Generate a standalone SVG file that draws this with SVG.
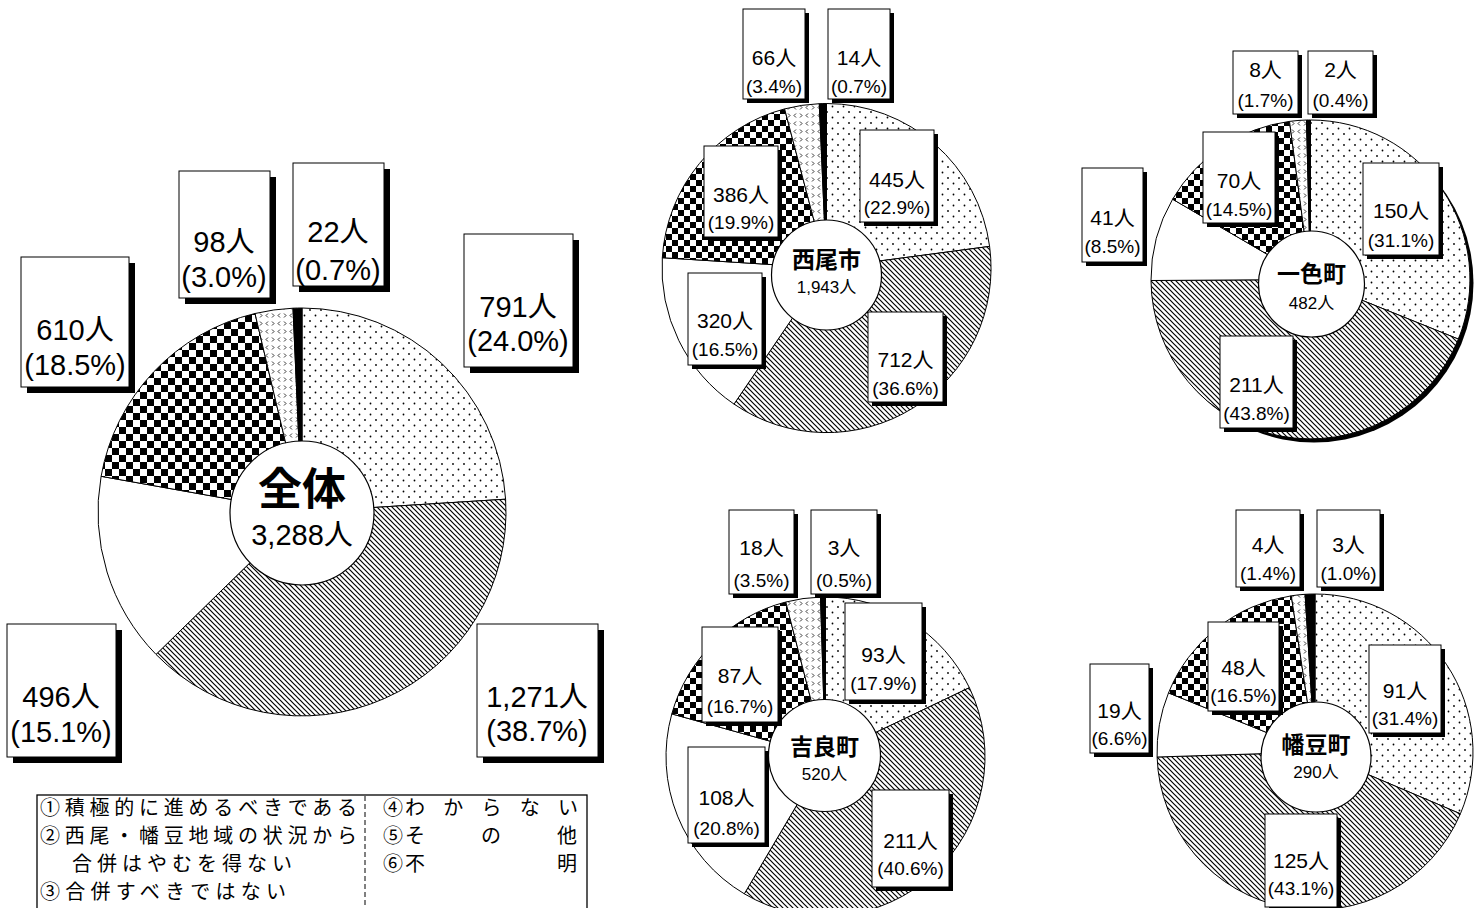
<svg xmlns="http://www.w3.org/2000/svg" width="1482" height="908" viewBox="0 0 1482 908">
<style>
.sl{stroke:#000;stroke-width:1;stroke-linejoin:round}
.hole{fill:#fff;stroke:#000;stroke-width:1.2}
.bx{fill:#fff;stroke:#000;stroke-width:1}
.sh{fill:#000}
.t{font-family:"Liberation Sans","Noto Sans CJK JP",Arial,sans-serif;fill:#000;text-anchor:middle}
.big{font-size:29px}
.sm{font-size:21px}
.smp{font-size:19px}
.ttl{font-family:"Noto Sans CJK JP","Liberation Sans",sans-serif;font-weight:bold;text-anchor:middle}
.lg{font-family:"Noto Sans CJK JP",sans-serif;font-size:20px;fill:#000}
</style>
<defs>
<pattern id="pDot" width="11" height="11" patternUnits="userSpaceOnUse"><rect width="11" height="11" fill="#fff"/><circle cx="2" cy="2" r="0.9"/><circle cx="7.5" cy="7.5" r="0.9"/></pattern>
<pattern id="pHatch" width="5" height="5" patternUnits="userSpaceOnUse"><rect width="5" height="5" fill="#fff"/><path d="M-1,-1 L6,6 M-1,4 L1,6 M4,-1 L6,1" stroke="#000" stroke-width="1.2"/></pattern>
<pattern id="pChkL" width="14" height="14" patternUnits="userSpaceOnUse"><rect width="14" height="14" fill="#fff"/><rect width="7" height="7"/><rect x="7" y="7" width="7" height="7"/></pattern>
<pattern id="pChkS" width="12" height="12" patternUnits="userSpaceOnUse"><rect width="12" height="12" fill="#fff"/><rect width="6" height="6"/><rect x="6" y="6" width="6" height="6"/></pattern>
<pattern id="pChev" width="12" height="8" patternUnits="userSpaceOnUse"><rect width="12" height="8" fill="#fff"/><path d="M4,1.5 L2,3.5 L4,5.5 M8,1.5 L10,3.5 L8,5.5" fill="none" stroke="#000" stroke-width="0.8"/></pattern>
</defs>

<!-- Main pie -->
<g id="pie-all">
<path class="sl" fill="url(#pDot)" d="M302,512 L302,308 A204,204 0 0 1 505.6,499.2 Z"/>
<path class="sl" fill="url(#pHatch)" d="M302,512 L505.6,499.2 A204,204 0 0 1 156.0,654.4 Z"/>
<path class="sl" fill="#fff" d="M302,512 L156.0,654.4 A204,204 0 0 1 101.1,476.3 Z"/>
<path class="sl" fill="url(#pChkL)" d="M302,512 L101.1,476.3 A204,204 0 0 1 255.0,313.5 Z"/>
<path class="sl" fill="url(#pChev)" d="M302,512 L255.0,313.5 A204,204 0 0 1 293.0,308.2 Z"/>
<path class="sl" fill="#000" d="M302,512 L293.0,308.2 A204,204 0 0 1 302,308 Z"/>
<circle class="hole" cx="302" cy="513" r="72"/>
<text class="ttl" x="302" y="505" font-size="44">全体</text>
<text class="t big" x="302" y="545">3,288人</text>
</g>
<g id="lbl-all">
<rect class="sh" x="470" y="240" width="109" height="133"/><rect class="bx" x="464" y="234" width="109" height="133"/>
<text class="t big" x="518" y="317">791人</text><text class="t big" x="518" y="351">(24.0%)</text>
<rect class="sh" x="483" y="630" width="121" height="133"/><rect class="bx" x="477" y="624" width="121" height="133"/>
<text class="t big" x="537" y="707">1,271人</text><text class="t big" x="537" y="741">(38.7%)</text>
<rect class="sh" x="13" y="630" width="109" height="133"/><rect class="bx" x="7" y="624" width="109" height="133"/>
<text class="t big" x="61" y="707">496人</text><text class="t big" x="61" y="742">(15.1%)</text>
<rect class="sh" x="27" y="263" width="108" height="130"/><rect class="bx" x="21" y="257" width="108" height="130"/>
<text class="t big" x="75" y="340">610人</text><text class="t big" x="75" y="375">(18.5%)</text>
<rect class="sh" x="185" y="177" width="91" height="127"/><rect class="bx" x="179" y="171" width="91" height="127"/>
<text class="t big" x="224" y="252">98人</text><text class="t big" x="224" y="287">(3.0%)</text>
<rect class="sh" x="299" y="169" width="91" height="123"/><rect class="bx" x="293" y="163" width="91" height="123"/>
<text class="t big" x="338" y="242">22人</text><text class="t big" x="338" y="280">(0.7%)</text>
</g>

<!-- Nishio -->
<g id="pie-nishio">
<path class="sl" fill="url(#pDot)" d="M826.5,268 L826.5,103.5 A164.5,164.5 0 0 1 989.6,246.4 Z"/>
<path class="sl" fill="url(#pHatch)" d="M826.5,268 L989.6,246.4 A164.5,164.5 0 0 1 734.0,404.1 Z"/>
<path class="sl" fill="#fff" d="M826.5,268 L734.0,404.1 A164.5,164.5 0 0 1 662.3,257.7 Z"/>
<path class="sl" fill="url(#pChkS)" d="M826.5,268 L662.3,257.7 A164.5,164.5 0 0 1 784.6,108.9 Z"/>
<path class="sl" fill="url(#pChev)" d="M826.5,268 L784.6,108.9 A164.5,164.5 0 0 1 819.3,103.7 Z"/>
<path class="sl" fill="#000" d="M826.5,268 L819.3,103.7 A164.5,164.5 0 0 1 826.5,103.5 Z"/>
<circle class="hole" cx="826.5" cy="275" r="55"/>
<text class="ttl" x="826.5" y="268" font-size="23">西尾市</text>
<text class="t" x="826.5" y="293" font-size="17">1,943人</text>
</g>
<g id="lbl-nishio">
<rect class="sh" x="747" y="13" width="62" height="90"/><rect class="bx" x="743" y="9" width="62" height="90"/>
<text class="t sm" x="774" y="65">66人</text><text class="t smp" x="774" y="93">(3.4%)</text>
<rect class="sh" x="832" y="13" width="62" height="90"/><rect class="bx" x="828" y="9" width="62" height="90"/>
<text class="t sm" x="859" y="65">14人</text><text class="t smp" x="859" y="93">(0.7%)</text>
<rect class="sh" x="864" y="134" width="74" height="92"/><rect class="bx" x="860" y="130" width="74" height="92"/>
<text class="t sm" x="897" y="187">445人</text><text class="t smp" x="897" y="214">(22.9%)</text>
<rect class="sh" x="708" y="150" width="74" height="91"/><rect class="bx" x="704" y="146" width="74" height="91"/>
<text class="t sm" x="741" y="202">386人</text><text class="t smp" x="741" y="229">(19.9%)</text>
<rect class="sh" x="692" y="277" width="74" height="92"/><rect class="bx" x="688" y="273" width="74" height="92"/>
<text class="t sm" x="725" y="328">320人</text><text class="t smp" x="725" y="356">(16.5%)</text>
<rect class="sh" x="872" y="316" width="75" height="90"/><rect class="bx" x="868" y="312" width="75" height="90"/>
<text class="t sm" x="905.5" y="367">712人</text><text class="t smp" x="905.5" y="395">(36.6%)</text>
</g>

<!-- Isshiki -->
<g id="pie-isshiki">
<circle cx="1314" cy="283" r="159.5" fill="#000"/>
<path class="sl" fill="url(#pDot)" d="M1310.5,279.5 L1310.5,120 A159.5,159.5 0 0 1 1458.4,339.1 Z"/>
<path class="sl" fill="url(#pHatch)" d="M1310.5,279.5 L1458.4,339.1 A159.5,159.5 0 0 1 1151.0,280.5 Z"/>
<path class="sl" fill="#fff" d="M1310.5,279.5 L1151.0,280.5 A159.5,159.5 0 0 1 1172.6,199.2 Z"/>
<path class="sl" fill="url(#pChkS)" d="M1310.5,279.5 L1172.6,199.2 A159.5,159.5 0 0 1 1289.5,121.4 Z"/>
<path class="sl" fill="url(#pChev)" d="M1310.5,279.5 L1289.5,121.4 A159.5,159.5 0 0 1 1306.5,120.0 Z"/>
<path class="sl" fill="#000" d="M1310.5,279.5 L1306.5,120.0 A159.5,159.5 0 0 1 1310.5,120 Z"/>
<circle class="hole" cx="1311.5" cy="284" r="53"/>
<text class="ttl" x="1311.5" y="282" font-size="23">一色町</text>
<text class="t" x="1311.5" y="309" font-size="17">482人</text>
</g>
<g id="lbl-isshiki">
<rect class="sh" x="1237" y="55" width="65" height="63"/><rect class="bx" x="1233" y="51" width="65" height="63"/>
<text class="t sm" x="1265.5" y="77">8人</text><text class="t smp" x="1265.5" y="107">(1.7%)</text>
<rect class="sh" x="1312" y="55" width="65" height="63"/><rect class="bx" x="1308" y="51" width="65" height="63"/>
<text class="t sm" x="1340.5" y="77">2人</text><text class="t smp" x="1340.5" y="107">(0.4%)</text>
<rect class="sh" x="1207" y="136" width="72" height="91"/><rect class="bx" x="1203" y="132" width="72" height="91"/>
<text class="t sm" x="1239" y="188">70人</text><text class="t smp" x="1239" y="216">(14.5%)</text>
<rect class="sh" x="1367" y="167" width="76" height="92"/><rect class="bx" x="1363" y="163" width="76" height="92"/>
<text class="t sm" x="1401" y="218">150人</text><text class="t smp" x="1401" y="247">(31.1%)</text>
<rect class="sh" x="1086" y="172" width="61" height="94"/><rect class="bx" x="1082" y="168" width="61" height="94"/>
<text class="t sm" x="1112.5" y="225">41人</text><text class="t smp" x="1112.5" y="253">(8.5%)</text>
<rect class="sh" x="1224" y="340" width="73" height="92"/><rect class="bx" x="1220" y="336" width="73" height="92"/>
<text class="t sm" x="1256.5" y="392">211人</text><text class="t smp" x="1256.5" y="420">(43.8%)</text>
</g>

<!-- Kira -->
<g id="pie-kira">
<path class="sl" fill="url(#pDot)" d="M825.5,756.5 L825.5,597 A159.5,159.5 0 0 1 969.4,687.7 Z"/>
<path class="sl" fill="url(#pHatch)" d="M825.5,756.5 L969.4,687.7 A159.5,159.5 0 0 1 744.3,893.8 Z"/>
<path class="sl" fill="#fff" d="M825.5,756.5 L744.3,893.8 A159.5,159.5 0 0 1 671.8,713.9 Z"/>
<path class="sl" fill="url(#pChkS)" d="M825.5,756.5 L671.8,713.9 A159.5,159.5 0 0 1 785.8,602.0 Z"/>
<path class="sl" fill="url(#pChev)" d="M825.5,756.5 L785.8,602.0 A159.5,159.5 0 0 1 820.5,597.1 Z"/>
<path class="sl" fill="#000" d="M825.5,756.5 L820.5,597.1 A159.5,159.5 0 0 1 825.5,597 Z"/>
<circle class="hole" cx="824.5" cy="755.5" r="56"/>
<text class="ttl" x="824.5" y="755" font-size="23">吉良町</text>
<text class="t" x="824.5" y="780" font-size="17">520人</text>
</g>
<g id="lbl-kira">
<rect class="sh" x="733" y="514" width="65" height="84"/><rect class="bx" x="729" y="510" width="65" height="84"/>
<text class="t sm" x="761.5" y="555">18人</text><text class="t smp" x="761.5" y="587">(3.5%)</text>
<rect class="sh" x="815" y="514" width="66" height="84"/><rect class="bx" x="811" y="510" width="66" height="84"/>
<text class="t sm" x="844" y="555">3人</text><text class="t smp" x="844" y="587">(0.5%)</text>
<rect class="sh" x="849" y="607" width="77" height="97"/><rect class="bx" x="845" y="603" width="77" height="97"/>
<text class="t sm" x="883.5" y="662">93人</text><text class="t smp" x="883.5" y="690">(17.9%)</text>
<rect class="sh" x="706" y="631" width="76" height="95"/><rect class="bx" x="702" y="627" width="76" height="95"/>
<text class="t sm" x="740" y="683">87人</text><text class="t smp" x="740" y="713">(16.7%)</text>
<rect class="sh" x="692" y="751" width="77" height="96"/><rect class="bx" x="688" y="747" width="77" height="96"/>
<text class="t sm" x="726.5" y="805">108人</text><text class="t smp" x="726.5" y="835">(20.8%)</text>
<rect class="sh" x="876" y="794" width="77" height="97"/><rect class="bx" x="872" y="790" width="77" height="97"/>
<text class="t sm" x="910.5" y="848">211人</text><text class="t smp" x="910.5" y="875">(40.6%)</text>
</g>

<!-- Hazu -->
<g id="pie-hazu">
<path class="sl" fill="url(#pDot)" d="M1315,752 L1315,594 A158,158 0 0 1 1460.4,813.8 Z"/>
<path class="sl" fill="url(#pHatch)" d="M1315,752 L1460.4,813.8 A158,158 0 0 1 1157.1,757.0 Z"/>
<path class="sl" fill="#fff" d="M1315,752 L1157.1,757.0 A158,158 0 0 1 1168.5,692.9 Z"/>
<path class="sl" fill="url(#pChkS)" d="M1315,752 L1168.5,692.9 A158,158 0 0 1 1291.3,595.8 Z"/>
<path class="sl" fill="url(#pChev)" d="M1315,752 L1291.3,595.8 A158,158 0 0 1 1305.1,594.3 Z"/>
<path class="sl" fill="#000" d="M1315,752 L1305.1,594.3 A158,158 0 0 1 1315,594 Z"/>
<circle class="hole" cx="1316" cy="757" r="55"/>
<text class="ttl" x="1316" y="753" font-size="23">幡豆町</text>
<text class="t" x="1316" y="778" font-size="17">290人</text>
</g>
<g id="lbl-hazu">
<rect class="sh" x="1240" y="514" width="64" height="77"/><rect class="bx" x="1236" y="510" width="64" height="77"/>
<text class="t sm" x="1268" y="552">4人</text><text class="t smp" x="1268" y="580">(1.4%)</text>
<rect class="sh" x="1321" y="514" width="63" height="77"/><rect class="bx" x="1317" y="510" width="63" height="77"/>
<text class="t sm" x="1348.5" y="552">3人</text><text class="t smp" x="1348.5" y="580">(1.0%)</text>
<rect class="sh" x="1212" y="626" width="71" height="89"/><rect class="bx" x="1208" y="622" width="71" height="89"/>
<text class="t sm" x="1243.5" y="675">48人</text><text class="t smp" x="1243.5" y="702">(16.5%)</text>
<rect class="sh" x="1373" y="649" width="72" height="88"/><rect class="bx" x="1369" y="645" width="72" height="88"/>
<text class="t sm" x="1405" y="698">91人</text><text class="t smp" x="1405" y="725">(31.4%)</text>
<rect class="sh" x="1094" y="668" width="59" height="89"/><rect class="bx" x="1090" y="664" width="59" height="89"/>
<text class="t sm" x="1119.5" y="718">19人</text><text class="t smp" x="1119.5" y="745">(6.6%)</text>
<rect class="sh" x="1269" y="818" width="72" height="93"/><rect class="bx" x="1265" y="814" width="72" height="93"/>
<text class="t sm" x="1301" y="868">125人</text><text class="t smp" x="1301" y="895">(43.1%)</text>
</g>

<!-- Legend -->
<g id="legend">
<rect x="37" y="795" width="550" height="130" fill="#fff" stroke="#000" stroke-width="1.3"/>
<line x1="365" y1="796" x2="365" y2="908" stroke="#000" stroke-width="1" stroke-dasharray="5,3"/>
<text class="lg" x="40" y="815" textLength="317" lengthAdjust="spacing">①積極的に進めるべきである</text>
<text class="lg" x="40" y="843" textLength="317" lengthAdjust="spacing">②西尾・幡豆地域の状況から</text>
<text class="lg" x="72" y="871" textLength="220" lengthAdjust="spacing">合併はやむを得ない</text>
<text class="lg" x="40" y="899" textLength="246" lengthAdjust="spacing">③合併すべきではない</text>
<text class="lg" x="383" y="815">④</text>
<text class="lg" x="405" y="815" textLength="173" lengthAdjust="spacing">わからない</text>
<text class="lg" x="383" y="843">⑤</text>
<text class="lg" x="405" y="843">そ</text><text class="lg" x="481" y="843">の</text><text class="lg" x="557" y="843">他</text>
<text class="lg" x="383" y="871">⑥</text>
<text class="lg" x="405" y="871">不</text><text class="lg" x="557" y="871">明</text>
</g>
</svg>
